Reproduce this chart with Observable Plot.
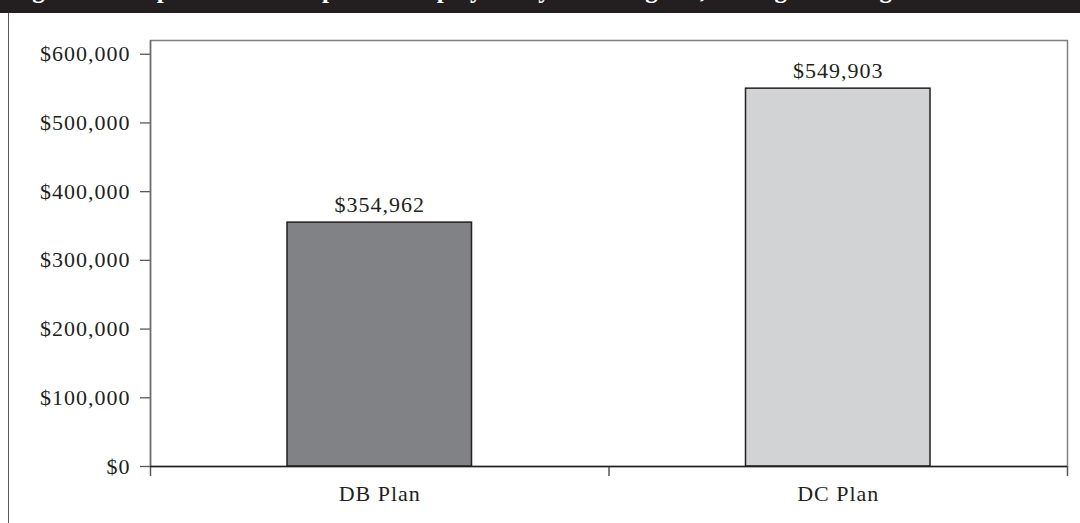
<!DOCTYPE html>
<html>
<head>
<meta charset="utf-8">
<script src="https://cdn.jsdelivr.net/npm/d3@7"></script>
<script src="https://cdn.jsdelivr.net/npm/@observablehq/plot@0.6"></script>
<style>
  html, body { margin: 0; padding: 0; background: #fff; }
  #page { position: relative; width: 1080px; height: 523px; overflow: hidden; }
  #title { position: absolute; left: 0; top: 0; width: 1080px; height: 13px; background: #231f20; overflow: hidden; }
  #title span { position: absolute; left: 10px; top: -23px; font: bold 25px/26px "Liberation Serif", serif; color: #fff; white-space: nowrap; }
  #border { position: absolute; left: 8px; top: 13px; width: 1px; height: 510px; background: #58595b; }
  #chart { position: absolute; left: 0; top: 13px; }
</style>
</head>
<body>
<div id="page">
  <div id="title"><span>Figure 4 Comparison of Lump-Sum Employer Payouts at Age 65, Average Earnings</span></div>
  <div id="border"></div>
  <div id="chart"></div>
</div>
<script>
const categories = ["DB Plan", "DC Plan"];
const values = [354962, 549903];
const fills = ["#808285", "#d1d3d4"];
const yTicks = [0, 100000, 200000, 300000, 400000, 500000, 600000];
const yMax = 620000;

const data = categories.map((c, i) => ({category: c, value: values[i], fill: fills[i], i}));
const fmt = d => "$" + d3.format(",")(d);
const font = '"Liberation Serif", serif';

const chart = Plot.plot({
  width: 1080,
  height: 510,
  marginLeft: 150,
  marginRight: 13,
  marginTop: 27,
  marginBottom: 57,
  style: {fontFamily: font, fontSize: "22px", color: "#231f20", background: "transparent", letterSpacing: "1px"},
  x: {type: "linear", domain: [0, categories.length]},
  y: {domain: [0, yMax]},
  marks: [
    Plot.frame({stroke: "#808080", strokeWidth: 1.5}),
    Plot.rectY(data, {x1: "i", x2: d => d.i + 1, y: "value", fill: "fill", stroke: "#231f20", strokeWidth: 1.5, insetLeft: 137, insetRight: 137}),
    Plot.text(data, {x: d => d.i + 0.5, y: "value", text: d => fmt(d.value), dy: -18, fill: "#231f20", textAnchor: "middle"}),
    Plot.axisY({ticks: yTicks, tickFormat: fmt, tickSize: 10, tickPadding: 10, stroke: "#58595b", strokeWidth: 1.3, fill: "#231f20", label: null}),
    Plot.axisX({ticks: d3.range(categories.length + 1), tickFormat: () => "", tickSize: 10, stroke: "#58595b", strokeWidth: 1.5, label: null}),
    Plot.axisX({ticks: categories.map((c, i) => i + 0.5), tickFormat: d => categories[Math.floor(d)], tickSize: 0, tickPadding: 19, fill: "#231f20", label: null}),
    Plot.ruleX([0], {stroke: "#6d6e71", strokeWidth: 1.5}),
    Plot.ruleY([0], {stroke: "#231f20", strokeWidth: 1.5})
  ]
});
document.getElementById("chart").appendChild(chart);
</script>
</body>
</html>
